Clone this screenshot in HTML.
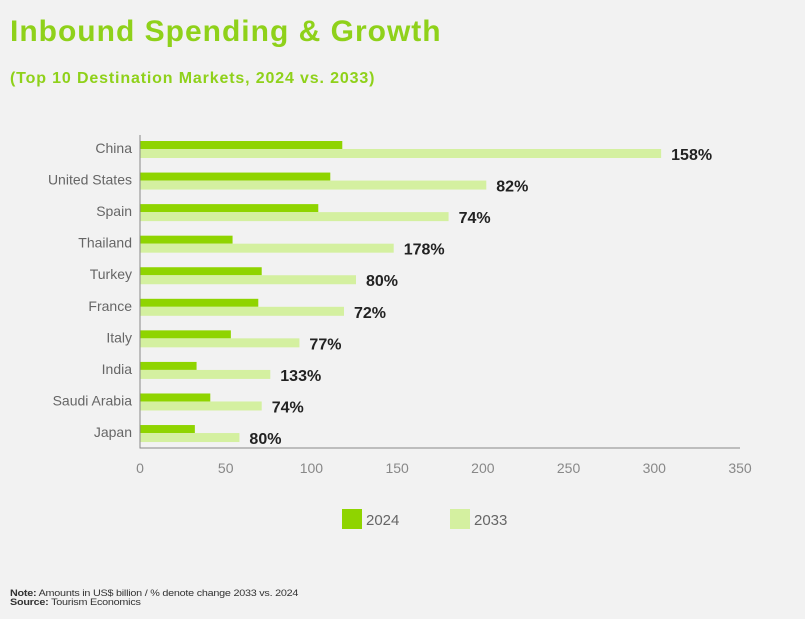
<!DOCTYPE html>
<html><head><meta charset="utf-8"><style>
body{margin:0;background:#f2f2f2;width:805px;height:619px;overflow:hidden;font-family:"Liberation Sans",sans-serif;}
#title{position:absolute;left:10px;top:15px;font-size:30px;font-weight:bold;color:#8fd11a;letter-spacing:1px;}
#sub{position:absolute;left:10px;top:70px;font-size:16px;font-weight:bold;color:#8fd11a;letter-spacing:0.85px;}
#note{position:absolute;left:10px;top:589px;font-size:9px;color:#333;line-height:9px;letter-spacing:-0.2px;transform:scaleX(1.2);transform-origin:left}
svg{position:absolute;left:0;top:0}
</style></head><body>
<div id="title">Inbound Spending &amp; Growth</div>
<div id="sub">(Top 10 Destination Markets, 2024 vs. 2033)</div>
<div id="note"><b>Note:</b> Amounts in US$ billion / % denote change 2033 vs. 2024<br><b>Source:</b> Tourism Economics</div>
<svg id="chart" width="805" height="619"></svg>
<script>
const categories=["China","United States","Spain","Thailand","Turkey","France","Italy","India","Saudi Arabia","Japan"];
const values2024=[118,111,104,54,71,69,53,33,41,32];
const values2033=[304,202,180,148,126,119,93,76,71,58];
const growthLabels=["158%","82%","74%","178%","80%","72%","77%","133%","74%","80%"];
const ticks=[0,50,100,150,200,250,300,350];
const NS="http://www.w3.org/2000/svg";
const svg=document.getElementById('chart');
const x0=140,x1=740,xmax=350;
const xs=v=>x0+v/xmax*(x1-x0);
const rowY=i=>149+i*31.56;
function mk(t,a){const e=document.createElementNS(NS,t);for(const k in a)e.setAttribute(k,a[k]);svg.appendChild(e);return e;}
categories.forEach((c,i)=>{
  const y=rowY(i);
  let b=mk('rect',{x:x0,y:y-8,width:xs(values2024[i])-x0,height:8,fill:'#8fd400'});
  
  
  let b2=mk('rect',{x:x0,y:y,width:xs(values2033[i])-x0,height:9,fill:'#d4f0a0'});
  
  
  let t=mk('text',{x:132,y:y+4,'text-anchor':'end','font-size':14,fill:'#666'});t.textContent=c;
  
  
  let g=mk('text',{x:xs(values2033[i])+10,y:y+11,'font-size':16,'font-weight':'bold',fill:'#222'});g.textContent=growthLabels[i];
  
  
});
let ax=mk('path',{d:`M${x0},135V448H${x1}`,stroke:'#888','stroke-width':1,fill:'none'});


ticks.forEach(v=>{
  let t=mk('text',{x:xs(v),y:473,'text-anchor':'middle','font-size':14,fill:'#888'});t.textContent=v;
  
  
});
[[342,'#8fd400','2024'],[450,'#d4f0a0','2033']].forEach(([lx,col,lab])=>{
  let r=mk('rect',{x:lx,y:509,width:20,height:20,fill:col});
  
  
  let t=mk('text',{x:lx+24,y:525,'font-size':15,fill:'#666'});t.textContent=lab;
  
  
});
</script>
</body></html>
